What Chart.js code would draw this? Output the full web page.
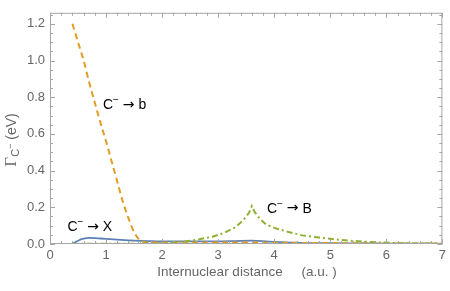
<!DOCTYPE html>
<html>
<head>
<meta charset="utf-8">
<script src="https://cdn.jsdelivr.net/npm/chart.js@4.4.1/dist/chart.umd.min.js"></script>
<style>
  html, body { margin: 0; padding: 0; background: #fff; }
  canvas { display: block; }
</style>
</head>
<body>
<canvas id="grafico" width="450" height="291"></canvas>
<script>
// C- -> X (solid blue)
const distX = [0.4, 0.5, 0.6, 0.7, 0.8, 0.9, 1.0, 1.2, 1.4, 1.6, 1.8, 2.0, 2.5, 3.0, 3.3, 3.6, 3.9, 4.2, 4.5, 5.0, 5.5, 6.0, 6.5, 7.0];
const gammaX = [0.0, 0.018, 0.029, 0.033, 0.032, 0.030, 0.028, 0.024, 0.020, 0.017, 0.015, 0.014, 0.014, 0.014, 0.016, 0.018, 0.013, 0.009, 0.006, 0.004, 0.003, 0.002, 0.002, 0.001];

// C- -> b (dashed orange)
const distb = [0.4, 0.5, 0.6, 0.7, 0.8, 0.9, 1.0, 1.1, 1.2, 1.3, 1.4, 1.5, 1.6, 1.7, 1.8, 2.0, 2.5, 3.0, 3.5, 4.0, 4.5, 5.0, 5.5, 6.0, 6.5, 7.0];
const gammab = [1.20, 1.10, 1.00, 0.88, 0.77, 0.66, 0.56, 0.45, 0.34, 0.23, 0.14, 0.065, 0.022, 0.010, 0.008, 0.008, 0.008, 0.008, 0.008, 0.007, 0.006, 0.005, 0.004, 0.003, 0.003, 0.002];

// C- -> B (dash-dot green)
const distB = [0.4, 1.0, 1.5, 2.0, 2.3, 2.6, 2.9, 3.1, 3.3, 3.45, 3.55, 3.6, 3.65, 3.75, 3.85, 4.0, 4.2, 4.5, 4.8, 5.1, 5.4, 5.7, 6.0, 6.5, 7.0];
const gammaB = [0.002, 0.002, 0.002, 0.004, 0.010, 0.022, 0.040, 0.060, 0.090, 0.130, 0.170, 0.207, 0.175, 0.135, 0.107, 0.088, 0.070, 0.047, 0.035, 0.025, 0.017, 0.011, 0.007, 0.003, 0.002];

const xTicks = [0, 1, 2, 3, 4, 5, 6, 7];
const yTicks = [0, 0.2, 0.4, 0.6, 0.8, 1.0, 1.2];

// label text and the (distance, gamma) where each label is centred
const rotulos = [
    { nome: "b", x: 1.33, y: 0.756 },
    { nome: "X", x: 0.71, y: 0.093 },
    { nome: "B", x: 4.27, y: 0.192 }
];

const corEixo = "#a6a6a6";
const corTexto = "#666666";
const sans = "'Liberation Sans', Arial, sans-serif";

function pontos(xs, ys) {
    return xs.map((x, i) => ({ x: x, y: ys[i] }));
}

const moldura = {
    id: "moldura",
    afterDatasetsDraw(chart) {
        const c = chart.ctx;
        const a = chart.chartArea;
        const sx = chart.scales.x;
        const sy = chart.scales.y;

        c.save();
        c.strokeStyle = corEixo;
        c.lineWidth = 1;
        c.strokeRect(a.left + 0.5, a.top + 0.5, a.right - a.left - 1, a.bottom - a.top - 1);

        c.beginPath();
        for (let v = 0; v <= 7.001; v += 0.2) {
            const px = Math.round(sx.getPixelForValue(v)) + 0.5;
            const major = Math.abs(v - Math.round(v)) < 0.01;
            const len = major ? 5 : 3;
            c.moveTo(px, a.bottom); c.lineTo(px, a.bottom - len);
            c.moveTo(px, a.top); c.lineTo(px, a.top + len);
        }
        for (let v = 0; v <= 1.26; v += 0.05) {
            const py = Math.round(sy.getPixelForValue(v)) + 0.5;
            const major = Math.abs(v / 0.2 - Math.round(v / 0.2)) < 0.01;
            const len = major ? 5 : 3;
            c.moveTo(a.left, py); c.lineTo(a.left + len, py);
            c.moveTo(a.right, py); c.lineTo(a.right - len, py);
        }
        c.stroke();

        // curve labels
        c.fillStyle = "#000";
        c.textBaseline = "middle";
        c.textAlign = "left";
        rotulos.forEach(r => {
            const px = sx.getPixelForValue(r.x);
            const py = sy.getPixelForValue(r.y);
            c.font = "14px " + sans;
            const wC = c.measureText("C").width;
            const wEsp = c.measureText(" ").width;
            const wNome = c.measureText(r.nome).width;
            c.font = "10px " + sans;
            const wSup = c.measureText("\u2212").width;
            c.font = "14px 'DejaVu Sans', sans-serif";
            const wSeta = c.measureText("\u2192").width;
            const total = wC + wSup + wEsp * 2 + wSeta + wNome;
            let x0 = px - total / 2;
            c.font = "14px " + sans;
            c.fillText("C", x0, py);
            x0 += wC;
            c.font = "10px " + sans;
            c.fillText("\u2212", x0, py - 5);
            x0 += wSup + wEsp;
            c.font = "14px 'DejaVu Sans', sans-serif";
            c.fillText("\u2192", x0, py);
            x0 += wSeta + wEsp;
            c.font = "14px " + sans;
            c.fillText(r.nome, x0, py);
        });

        // x title
        c.fillStyle = corTexto;
        c.font = "13.5px " + sans;
        c.textAlign = "center";
        c.fillText("Internuclear distance     (a.u. )", 247, 272);

        // y title, rotated
        c.translate(12, 140);
        c.rotate(-Math.PI / 2);
        c.textAlign = "left";
        c.font = "17px 'Liberation Serif', 'Times New Roman', serif";
        const wG = c.measureText("\u0393").width;
        c.font = "11px " + sans;
        const wC = c.measureText("C").width;
        c.font = "9px " + sans;
        const wM = c.measureText("\u2212").width;
        c.font = "14px " + sans;
        const wE = c.measureText(" (eV)").width;
        let x0 = -(wG + wC + wM + wE) / 2;
        c.font = "17px 'Liberation Serif', 'Times New Roman', serif";
        c.fillText("\u0393", x0, 0);
        c.font = "11px " + sans;
        c.fillText("C", x0 + wG, 4);
        c.font = "9px " + sans;
        c.fillText("\u2212", x0 + wG + wC, -1);
        c.font = "14px " + sans;
        c.fillText(" (eV)", x0 + wG + wC + wM, 0);
        c.restore();
    }
};

new Chart(document.getElementById("grafico"), {
    type: "line",
    data: {
        datasets: [
            {
                label: "C- -> B",
                data: pontos(distB, gammaB),
                borderColor: "#8fb032",
                borderWidth: 2,
                borderDash: [6, 3, 2, 3],
                tension: 0,
                pointRadius: 0,
                fill: false
            },
            {
                label: "C- -> b",
                data: pontos(distb, gammab),
                borderColor: "#e19c24",
                borderWidth: 2,
                borderDash: [6, 4],
                cubicInterpolationMode: "monotone",
                pointRadius: 0,
                fill: false
            },
            {
                label: "C- -> X",
                data: pontos(distX, gammaX),
                borderColor: "#5e81b5",
                borderWidth: 1.8,
                cubicInterpolationMode: "monotone",
                pointRadius: 0,
                fill: false
            }
        ]
    },
    options: {
        responsive: false,
        animation: false,
        layout: { padding: { top: 1, right: 6, left: 0, bottom: 0 } },
        plugins: {
            legend: { display: false },
            tooltip: { enabled: false }
        },
        scales: {
            x: {
                type: "linear",
                min: 0,
                max: 7,
                afterFit: s => { s.height = 47; },
                afterBuildTicks: s => { s.ticks = xTicks.map(v => ({ value: v })); },
                grid: { display: false, drawTicks: false },
                border: { display: false },
                ticks: {
                    color: corTexto,
                    padding: 4,
                    maxRotation: 0,
                    font: { family: sans, size: 13 },
                    callback: v => String(v)
                }
            },
            y: {
                type: "linear",
                min: 0,
                max: 1.26,
                afterFit: s => { s.width = 50; },
                afterBuildTicks: s => { s.ticks = yTicks.map(v => ({ value: v })); },
                grid: { display: false, drawTicks: false },
                border: { display: false },
                ticks: {
                    color: corTexto,
                    padding: 5,
                    font: { family: sans, size: 13 },
                    callback: v => Number(v).toFixed(1)
                }
            }
        }
    },
    plugins: [moldura]
});
</script>
</body>
</html>
